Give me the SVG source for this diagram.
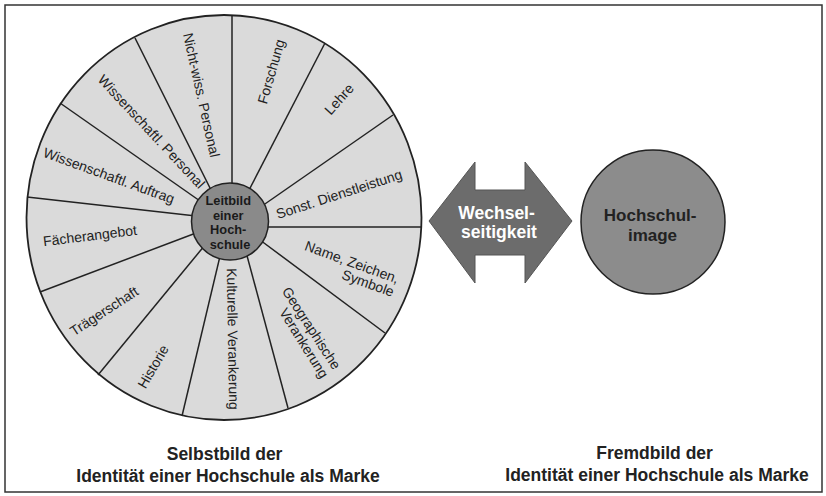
<svg xmlns="http://www.w3.org/2000/svg" width="826" height="496" viewBox="0 0 826 496">
<style>
.seg{font-family:"Liberation Sans",Arial,sans-serif;font-size:14px;fill:#222;text-anchor:middle}
.bold{font-family:"Liberation Sans",Arial,sans-serif;font-weight:bold;text-anchor:middle}
.div{stroke:#222;stroke-width:1.5;fill:none}
.cap{font-size:17.5px;fill:#222}
</style>
<rect x="5" y="5" width="817" height="487" fill="#fff" stroke="#333" stroke-width="1.5"/>

<g id="selbstbild">
  <ellipse cx="224" cy="217.5" rx="197.5" ry="202.5" fill="#dadada" stroke="#222" stroke-width="1.8"/>
  <g id="dividers">
    <line class="div" x1="232" y1="190" x2="232" y2="15"/>
    <line class="div" x1="248" y1="192" x2="325" y2="43"/>
    <line class="div" x1="262" y1="206" x2="393" y2="115"/>
    <line class="div" x1="265" y1="227" x2="421" y2="227"/>
    <line class="div" x1="260" y1="240" x2="385" y2="333"/>
    <line class="div" x1="246" y1="252" x2="288" y2="408"/>
    <line class="div" x1="221" y1="252" x2="182" y2="416"/>
    <line class="div" x1="205" y1="245" x2="98" y2="375"/>
    <line class="div" x1="196" y1="233" x2="40" y2="292"/>
    <line class="div" x1="196" y1="216" x2="27" y2="197"/>
    <line class="div" x1="200" y1="201" x2="60" y2="103"/>
    <line class="div" x1="212" y1="192" x2="135" y2="38"/>
  </g>
  <g id="labels">
    <text class="seg" transform="translate(271,71.5) rotate(-74)" y="5">Forschung</text>
    <text class="seg" transform="translate(339,99) rotate(-48)" y="5">Lehre</text>
    <text class="seg" transform="translate(339,194) rotate(-18)" y="5">Sonst. Dienstleistung</text>
    <text class="seg" transform="translate(352,262) rotate(20)" y="5">Name, Zeichen,</text>
    <text class="seg" transform="translate(368,283) rotate(20)" y="5">Symbole</text>
    <text class="seg" transform="translate(311.5,328) rotate(57)" y="5">Geographische</text>
    <text class="seg" transform="translate(304,343) rotate(58)" y="5">Verankerung</text>
    <text class="seg" transform="translate(233,339) rotate(89)" y="5">Kulturelle Verankerung</text>
    <text class="seg" transform="translate(153,366.5) rotate(-60)" y="5">Historie</text>
    <text class="seg" transform="translate(104,311) rotate(-33)" y="5">Trägerschaft</text>
    <text class="seg" transform="translate(90,235.5) rotate(-7)" y="5">Fächerangebot</text>
    <text class="seg" transform="translate(109,175.5) rotate(20)" y="5">Wissenschaftl. Auftrag</text>
    <text class="seg" transform="translate(151.5,131.5) rotate(47)" y="5">Wissenschaftl. Personal</text>
    <text class="seg" transform="translate(201.5,95) rotate(77.5)" y="5">Nicht-wiss. Personal</text>
  </g>
</g>

<g id="leitbild">
  <circle cx="230" cy="221.5" r="38.5" fill="#8a8a8a" stroke="#222" stroke-width="1.5"/>
  <text class="bold" font-size="12.8" fill="#1a1a1a">
    <tspan x="230" y="205">Leitbild</tspan>
    <tspan x="230" y="219.5">einer</tspan>
    <tspan x="230" y="234">Hoch-</tspan>
    <tspan x="230" y="248.5">schule</tspan>
  </text>
</g>

<g id="connectors">
  <polygon points="429,221 475,162 475,190 525,190 525,162 572,221 525,283 525,255 475,255 475,283" fill="#6c6c6c" stroke="#555" stroke-width="1"/>
  <text class="bold" font-size="17.5" fill="#fff">
    <tspan x="499" y="219">Wechsel-</tspan>
    <tspan x="499" y="238">seitigkeit</tspan>
  </text>
</g>

<g id="hochschulimage">
  <circle cx="653" cy="222" r="72" fill="#8c8c8c" stroke="#222" stroke-width="1.5"/>
  <text class="bold" font-size="17" fill="#222">
    <tspan x="652.5" y="221">Hochschul-</tspan>
    <tspan x="652.5" y="240.5">image</tspan>
  </text>
</g>

<g id="caption-left">
  <text class="bold cap">
    <tspan x="227" y="460">Selbstbild der</tspan>
    <tspan x="228" y="482">Identität einer Hochschule als Marke</tspan>
  </text>
</g>
<g id="caption-right">
  <text class="bold cap">
    <tspan x="657" y="459">Fremdbild der</tspan>
    <tspan x="657" y="481">Identität einer Hochschule als Marke</tspan>
  </text>
</g>
</svg>
